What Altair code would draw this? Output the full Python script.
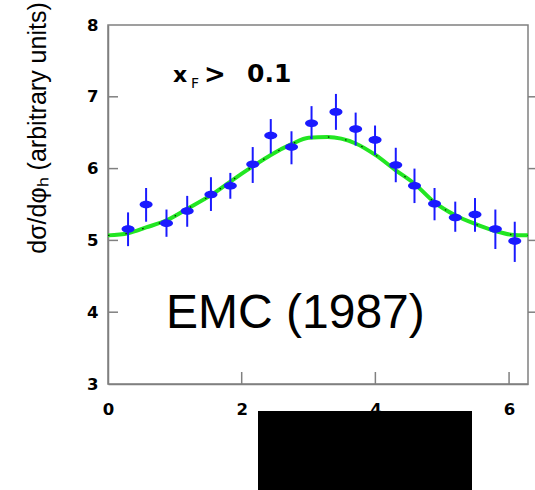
import altair as alt
import pandas as pd

# data points (phi_h, dsigma/dphi_h) with error bar limits
phi = [0.30, 0.57, 0.875, 1.185, 1.54, 1.83, 2.165, 2.435, 2.745, 3.045,
       3.41, 3.705, 3.995, 4.305, 4.585, 4.885, 5.195, 5.49, 5.795, 6.085]
dsig = [5.16, 5.50, 5.24, 5.41, 5.64, 5.76, 6.06, 6.46, 6.30, 6.63,
        6.79, 6.55, 6.40, 6.05, 5.76, 5.51, 5.32, 5.36, 5.16, 4.99]
err_lo = [4.92, 5.26, 5.05, 5.19, 5.41, 5.58, 5.80, 6.21, 6.06, 6.41,
          6.54, 6.32, 6.19, 5.81, 5.52, 5.28, 5.12, 5.12, 4.88, 4.70]
err_hi = [5.39, 5.73, 5.43, 5.62, 5.88, 5.94, 6.30, 6.69, 6.52, 6.87,
          7.04, 6.78, 6.60, 6.29, 6.00, 5.73, 5.54, 5.59, 5.43, 5.26]

# fitted curve
fit_phi = [0.0, 0.3, 0.57, 0.875, 1.185, 1.54, 1.83, 2.165, 2.435, 2.745, 3.0,
           3.285, 3.705, 4.0, 4.3, 4.585, 4.885, 5.195, 5.49, 5.795, 6.035, 6.283]
fit_val = [5.07, 5.10, 5.18, 5.28, 5.44, 5.63, 5.82, 6.03, 6.19, 6.34, 6.43,
           6.44, 6.35, 6.19, 5.98, 5.79, 5.53, 5.35, 5.23, 5.13, 5.08, 5.07]

x_labels = [0, 2, 4, 6]
y_labels = [3, 4, 5, 6, 7, 8]
x_inner_ticks = [2, 4, 6]
y_inner_ticks = [4, 5, 6, 7]

y_title = ["dσ/dφₕ (arbitrary units)"]
label_main = ["EMC (1987)"]

pts = pd.DataFrame({"phi": phi, "y": dsig, "lo": err_lo, "hi": err_hi})
fit = pd.DataFrame({"phi": fit_phi, "y": fit_val})

W, H = 420, 359
GREY = "#808080"
BLUE = "#1a1aff"

xs = alt.Scale(domain=[0, 6.2832], nice=False, zero=False)
ys = alt.Scale(domain=[3, 8], nice=False, zero=False)

xaxis = alt.Axis(values=x_labels, ticks=False, grid=False, title=None,
                 labelPadding=17, labelFont="DejaVu Sans", labelFontWeight="bold",
                 labelFontSize=16.5, labelColor="black", domainColor=GREY,
                 domainWidth=1.5, labelFlush=False)
yaxis = alt.Axis(values=y_labels, ticks=False, grid=False, title=None,
                 labelPadding=10, labelFont="DejaVu Sans", labelFontWeight="bold",
                 labelFontSize=16.5, labelColor="black", domainColor=GREY,
                 domainWidth=1.5, labelFlush=False)

curve = alt.Chart(fit).mark_line(color="#22e622", strokeWidth=4,
                                 interpolate="monotone").encode(
    x=alt.X("phi:Q", scale=xs, axis=xaxis),
    y=alt.Y("y:Q", scale=ys, axis=yaxis),
)
curve_dots = alt.Chart(fit).mark_line(color="black", strokeWidth=1.3,
                                      strokeDash=[1.5, 16], opacity=0.8,
                                      interpolate="monotone").encode(
    x=alt.X("phi:Q", scale=xs, axis=xaxis),
    y=alt.Y("y:Q", scale=ys, axis=yaxis),
)

bars = alt.Chart(pts).mark_rule(color=BLUE, strokeWidth=2).encode(
    x=alt.X("phi:Q", scale=xs, axis=xaxis),
    y=alt.Y("lo:Q", scale=ys, axis=yaxis),
    y2="hi:Q",
)
ELLIPSE = ("M-1,0 C-1,-0.32 -0.552,-0.58 0,-0.58 C0.552,-0.58 1,-0.32 1,0 "
           "C1,0.32 0.552,0.58 0,0.58 C-0.552,0.58 -1,0.32 -1,0 Z")
dots = alt.Chart(pts).mark_point(
    shape=ELLIPSE, filled=True, color=BLUE, opacity=1, size=169,
).encode(
    x=alt.X("phi:Q", scale=xs, axis=xaxis),
    y=alt.Y("y:Q", scale=ys, axis=yaxis),
)

yt = pd.DataFrame({"v": y_inner_ticks})
xt = pd.DataFrame({"v": x_inner_ticks})
ytick_l = alt.Chart(yt).mark_rule(color=GREY, strokeWidth=1.5).encode(
    y=alt.Y("v:Q", scale=ys, axis=yaxis), x=alt.value(0), x2=alt.value(10))
ytick_r = alt.Chart(yt).mark_rule(color=GREY, strokeWidth=1.5).encode(
    y=alt.Y("v:Q", scale=ys, axis=yaxis), x=alt.value(W), x2=alt.value(W + 8))
xtick = alt.Chart(xt).mark_rule(color=GREY, strokeWidth=1.5).encode(
    x=alt.X("v:Q", scale=xs, axis=xaxis), y=alt.value(H), y2=alt.value(H - 12))

one = pd.DataFrame({"a": [0]})
title_txt = alt.Chart(pd.DataFrame({"t": y_title})).mark_text(
    angle=270, align="center", baseline="middle", font="Liberation Sans",
    fontSize=25, color="black").encode(
    text="t:N", x=alt.value(-70), y=alt.value(103))
emc = alt.Chart(pd.DataFrame({"t": label_main})).mark_text(
    align="left", baseline="alphabetic", font="Liberation Sans",
    fontSize=48, color="black").encode(
    text="t:N", x=alt.value(58), y=alt.value(303))
xf_x = alt.Chart(pd.DataFrame({"t": ["x"]})).mark_text(
    align="left", baseline="alphabetic", font="DejaVu Sans", fontWeight="bold",
    fontSize=22, color="black").encode(text="t:N", x=alt.value(65), y=alt.value(57))
xf_F = alt.Chart(pd.DataFrame({"t": ["F"]})).mark_text(
    align="left", baseline="alphabetic", font="DejaVu Sans",
    fontSize=14, color="black").encode(text="t:N", x=alt.value(83), y=alt.value(63))
xf_gt = alt.Chart(pd.DataFrame({"t": [">"]})).mark_text(
    align="left", baseline="alphabetic", font="DejaVu Sans", fontWeight="bold",
    fontSize=26, color="black").encode(text="t:N", x=alt.value(96), y=alt.value(58))
xf_val = alt.Chart(pd.DataFrame({"t": ["0.1"]})).mark_text(
    align="left", baseline="alphabetic", font="DejaVu Sans", fontWeight="bold",
    fontSize=25, color="black").encode(text="t:N", x=alt.value(139), y=alt.value(57))

box = alt.Chart(one).mark_rect(color="black").encode(
    x=alt.value(150), x2=alt.value(364), y=alt.value(386), y2=alt.value(465))

chart = alt.layer(
    curve, curve_dots, bars, dots, ytick_l, ytick_r, xtick,
    title_txt, emc, xf_x, xf_F, xf_gt, xf_val, box,
).properties(
    width=W, height=H,
    autosize=alt.AutoSizeParams(type="none"),
    padding={"left": 108, "top": 25, "right": 7, "bottom": 106},
    background="white",
).configure_view(stroke=GREY, strokeWidth=1.5)

chart.save("out.html", embed_options={"renderer": "svg", "actions": False})
